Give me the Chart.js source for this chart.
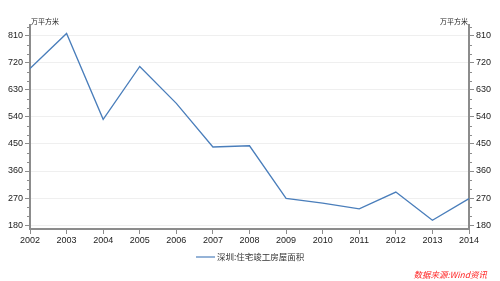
<!DOCTYPE html>
<html><head><meta charset="utf-8">
<script src="https://cdn.jsdelivr.net/npm/chart.js@4"></script>
<style>html,body{margin:0;padding:0;background:#fff;overflow:hidden}canvas{display:block}</style>
</head><body><canvas id="c" width="500" height="281"></canvas>
<script>
const years = ['2002','2003','2004','2005','2006','2007','2008','2009','2010','2011','2012','2013','2014'];
const seriesName = '深圳:住宅竣工房屋面积';
const area = [701, 818, 532, 708, 585, 440, 444, 269, 253, 234, 290, 196, 268];
const yTicks = [180, 270, 360, 450, 540, 630, 720, 810];
const unitLabel = '万平方米';
const sourceText = '数据来源:Wind资讯';

const AXIS = '#8c8c8c';
const tickFont = {family: 'Liberation Sans, Arial, sans-serif', size: 9};
const extras = {
  id: 'extras',
  afterDraw(chart) {
    const ctx = chart.ctx, ca = chart.chartArea;
    const yl = chart.scales.y;
    ctx.save();
    ctx.strokeStyle = AXIS; ctx.lineWidth = 1;
    for (let v = 180; v <= 840; v += 30) {
      if (v % 90 === 0) continue;
      const p = Math.round(yl.getPixelForValue(v)) + 0.5;
      if (p < ca.top) continue;
      ctx.beginPath(); ctx.moveTo(ca.left - 3, p); ctx.lineTo(ca.left, p); ctx.stroke();
      ctx.beginPath(); ctx.moveTo(ca.right, p); ctx.lineTo(ca.right + 3, p); ctx.stroke();
    }
    ctx.fillStyle = '#222';
    ctx.font = '7px "Noto Sans CJK SC"';
    ctx.textBaseline = 'bottom';
    ctx.textAlign = 'left'; ctx.fillText(unitLabel, ca.left + 1, ca.top);
    ctx.textAlign = 'right'; ctx.fillText(unitLabel, ca.right - 1, ca.top);
    // legend
    const ds = chart.data.datasets[0];
    ctx.font = '8.5px "Noto Sans CJK SC"';
    ctx.textAlign = 'left'; ctx.textBaseline = 'middle';
    const x0 = 196, ly = 257;
    ctx.strokeStyle = '#95b3d7'; ctx.lineWidth = 2;
    ctx.beginPath(); ctx.moveTo(x0, ly); ctx.lineTo(x0 + 19, ly); ctx.stroke();
    ctx.fillStyle = '#333';
    ctx.fillText(ds.label, x0 + 21, ly);
    // source
    ctx.font = 'italic 8.5px "Noto Sans CJK SC"';
    ctx.fillStyle = '#ff2020';
    ctx.textAlign = 'right';
    ctx.fillText(sourceText, 487, 275);
    ctx.restore();
  }
};
new Chart(document.getElementById('c'), {
  type: 'line',
  data: {labels: years, datasets: [{label: seriesName, data: area, borderColor: '#4a7ebb', borderWidth: 1.3, pointRadius: 0, tension: 0, fill: false}]},
  options: {
    responsive: false, animation: false, devicePixelRatio: 1,
    layout: {padding: {top: 25, left: 0, right: 0, bottom: 0}},
    plugins: {legend: {display: false}, tooltip: {enabled: false}},
    scales: {
      x: {
        offset: false,
        grid: {display: true, drawOnChartArea: false, tickLength: 5, tickColor: AXIS},
        border: {color: AXIS, width: 2},
        ticks: {color: '#222', font: tickFont, padding: 1, maxRotation: 0, autoSkip: false},
        afterFit(s) { s.height = 52; }
      },
      y: {
        position: 'left', min: 167, max: 846,
        afterBuildTicks(s) { s.ticks = yTicks.map(v => ({value: v})); },
        grid: {color: '#efefef', tickLength: 5, tickColor: AXIS},
        border: {color: AXIS, width: 2},
        ticks: {color: '#222', font: tickFont, padding: 2, autoSkip: false},
        afterFit(s) { s.width = 30; }
      },
      y2: {
        position: 'right', min: 167, max: 846,
        afterBuildTicks(s) { s.ticks = yTicks.map(v => ({value: v})); },
        grid: {drawOnChartArea: false, tickLength: 5, tickColor: AXIS},
        border: {color: AXIS, width: 2},
        ticks: {color: '#222', font: tickFont, padding: 2, autoSkip: false},
        afterFit(s) { s.width = 31; }
      }
    }
  },
  plugins: [extras]
});
</script></body></html>
